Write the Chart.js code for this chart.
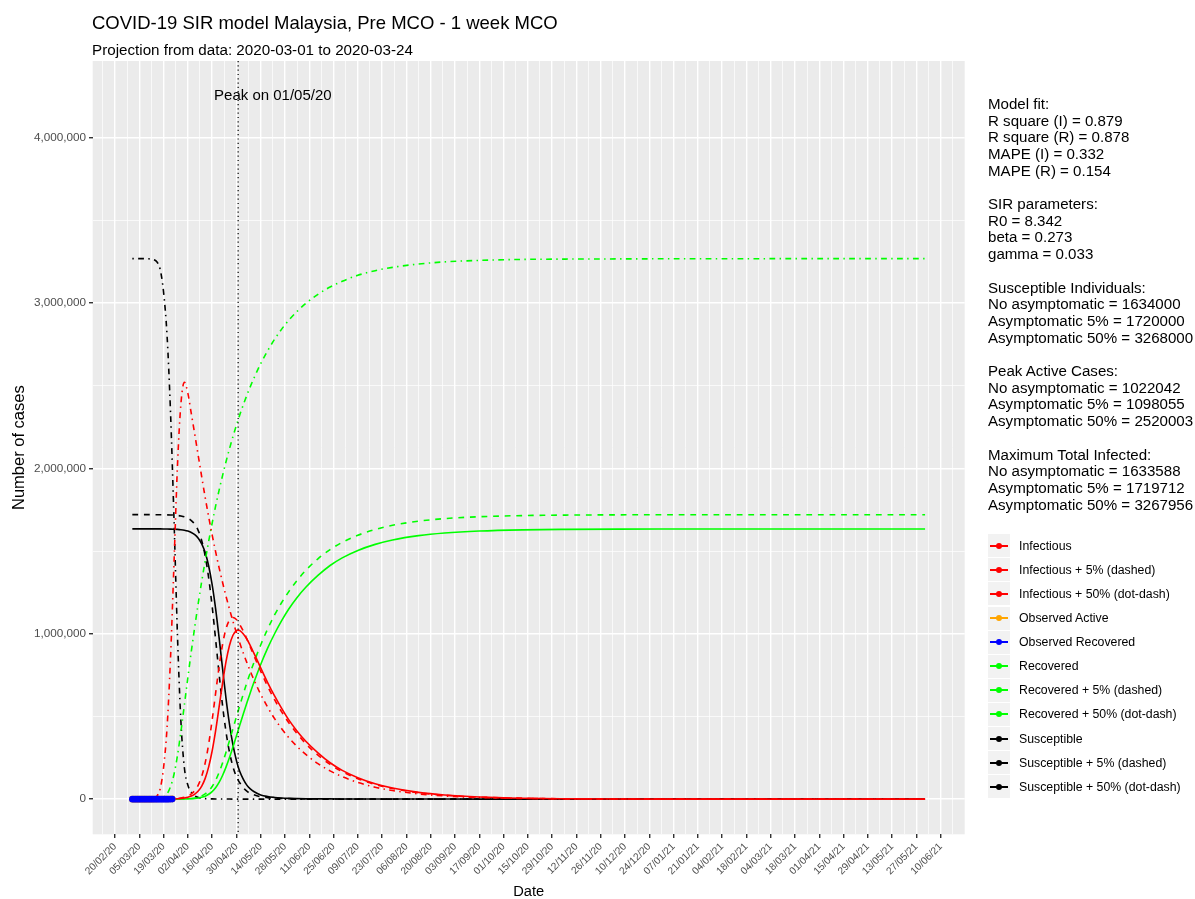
<!DOCTYPE html>
<html>
<head>
<meta charset="utf-8">
<script src="https://cdn.jsdelivr.net/npm/chart.js@4.4.1/dist/chart.umd.min.js"></script>
<style>
  body { margin: 0; background: #fff; font-family: "Liberation Sans", Arial, sans-serif; color: #000; }
  #wrap { position: relative; width: 1195px; height: 899px; overflow: hidden; }
  #chart { position: absolute; left: 0; top: 0; }
  .title { position: absolute; left: 92px; top: 14.3px; font-size: 18.5px; line-height: 18.5px; white-space: nowrap; }
  .subtitle { position: absolute; left: 92px; top: 42.1px; font-size: 15.2px; line-height: 15.2px; white-space: nowrap; }
  #info { position: absolute; left: 988px; top: 95.8px; font-size: 15.1px; line-height: 16.7px; white-space: pre; }
  .item { position: absolute; left: 988px; height: 24px; width: 207px; }
  .key { position: absolute; left: 0; top: 0.5px; width: 22px; height: 23px; background: #f2f2f2; }
  .key .ln { position: absolute; left: 2px; top: 10.5px; width: 18px; height: 2px; }
  .key .pt { position: absolute; left: 8px; top: 8.5px; width: 6px; height: 6px; border-radius: 50%; }
  .item .txt { position: absolute; left: 31px; top: 0; line-height: 24px; font-size: 12.3px; white-space: nowrap; }
</style>
</head>
<body>
<div id="wrap">
  <canvas id="chart" width="1195" height="899"></canvas>
  <div class="title">COVID-19 SIR model Malaysia, Pre MCO - 1 week MCO</div>
  <div class="subtitle">Projection from data: 2020-03-01 to 2020-03-24</div>
  <div id="info"></div>
  <div id="legend"></div>
</div>
<script>
// day 0 = 2020-03-01, values in thousands of cases
const days = [0, 10, 12, 14, 16, 18, 20, 22, 24, 26, 28, 30, 32, 34, 36, 38, 40, 42, 44, 46,
  48, 50, 52, 54, 56, 58, 60, 61, 62, 64, 66, 68, 70, 74, 78, 82, 86, 90, 95, 100,
  107, 114, 121, 130, 140, 150, 165, 180, 200, 225, 250, 280, 320, 370, 420, 457];

const infectious = [0.007, 0.06, 0.1, 0.16, 0.26, 0.41, 0.67, 1.08, 1.74, 2.8, 4.5, 7.3, 11.8, 19, 30.6, 49.3, 79.3, 125.5, 195, 291,
  413, 556, 700, 831, 929, 991, 1019, 1022, 1019, 999, 968, 928, 884, 794, 705, 624, 550, 482, 411, 350,
  280, 220, 174, 130, 93, 67, 41, 25, 12.8, 5.6, 2.5, 0.9, 0.25, 0.05, 0.01, 0.003];
const infectious5 = [0.007, 0.08, 0.13, 0.21, 0.35, 0.57, 0.95, 1.56, 2.6, 4.2, 7.0, 11.5, 19, 31.3, 51.6, 85.1, 138.2, 219, 332.5, 477.6,
  639.5, 800, 935, 1030, 1082, 1098, 1086, 1071.5, 1054, 1015, 969, 920, 870, 773, 682, 601, 529, 465, 396, 335,
  266, 210, 167, 124, 89, 64, 39, 23.8, 12.3, 5.4, 2.4, 0.9, 0.24, 0.05, 0.01, 0.003];
const infectious50 = [0.01, 1.5, 5, 17, 60, 190, 430, 850, 1420, 2010, 2390, 2520, 2455, 2330, 2205, 2076, 1948, 1824, 1707, 1598,
  1496, 1400, 1311, 1227, 1149, 1075, 1007, 974, 942, 882, 826, 773, 724, 634, 556, 487, 427, 374, 318, 270,
  215, 171, 136, 101, 72, 52, 32, 19.3, 10, 4.3, 1.9, 0.7, 0.19, 0.04, 0.01, 0.002];

const recovered = [0.022, 0.022, 0.03, 0.04, 0.05, 0.075, 0.1, 0.17, 0.27, 0.42, 0.66, 1.0, 1.7, 2.7, 4.4, 7.0, 11.3, 18, 29.5, 45.8,
  68.9, 100.8, 142.8, 193.4, 251.5, 315.5, 381.7, 416, 449.1, 515.7, 581.1, 643.9, 703.1, 814.5, 913, 1000, 1077.7, 1146.9, 1219.7, 1281,
  1352.4, 1412.5, 1458.6, 1503.6, 1540.3, 1566.8, 1592.9, 1608.8, 1620.8, 1628, 1631.1, 1632.7, 1633.3, 1633.5, 1633.6, 1633.6];
const recovered5 = [0.022, 0.022, 0.03, 0.04, 0.06, 0.09, 0.14, 0.23, 0.37, 0.6, 1.0, 1.6, 2.6, 4.3, 7.0, 11.5, 19.4, 31.7, 49.6, 76.4,
  113.6, 161.1, 218.6, 283.8, 353.7, 425.8, 498.1, 533.5, 568.4, 636.8, 702.7, 765.2, 823.6, 932.3, 1028.7, 1113.4, 1187.2, 1251.7, 1322.1, 1383.6,
  1452.8, 1508.8, 1552.4, 1595.4, 1630.4, 1655.5, 1680.6, 1695.9, 1707.4, 1714.3, 1717.3, 1718.8, 1719.45, 1719.65, 1719.7, 1719.7];
const recovered50 = [0.022, 0.1, 0.3, 1.1, 3.6, 11.8, 32, 75, 149, 263, 408, 570, 734, 893, 1043, 1184, 1317, 1441, 1558, 1668,
  1771, 1867, 1956, 2040, 2118, 2192, 2260, 2294, 2325, 2385, 2441, 2494, 2543, 2633, 2711, 2780, 2840, 2893, 2949, 2997,
  3052, 3096, 3131, 3167, 3195, 3215, 3235, 3248, 3257, 3263, 3265, 3266, 3267, 3267.5, 3268, 3268];

const susceptible = [1634, 1633.9, 1633.9, 1633.8, 1633.7, 1633.5, 1633.2, 1632.7, 1632, 1630.8, 1628.8, 1625.7, 1620.5, 1612.3, 1599, 1577.7, 1543.4, 1490.5, 1409.5, 1297.2,
  1152.1, 977.5, 790.7, 609.4, 453.5, 327.6, 233.4, 196, 165.5, 119.6, 84.7, 61.7, 46.5, 25.5, 15.7, 10.3, 6.8, 4.6, 3.2, 2.4,
  1.7, 1.5, 1.2, 1.0, 0.8, 0.7, 0.6, 0.5, 0.45, 0.43, 0.42, 0.41, 0.41, 0.41, 0.41, 0.41];
const susceptible5 = [1720, 1719.9, 1719.8, 1719.7, 1719.6, 1719.3, 1718.9, 1718.2, 1717, 1715.2, 1712, 1706.9, 1698.4, 1684.4, 1661.4, 1623.4, 1562.4, 1469.3, 1337.9, 1166,
  966.9, 758.9, 566.4, 406.2, 284.3, 196.2, 135.9, 115, 97.6, 68.2, 48.3, 34.8, 26.4, 14.7, 9.3, 5.6, 3.8, 3.0, 2.1, 1.4,
  1.0, 0.8, 0.6, 0.5, 0.4, 0.35, 0.32, 0.3, 0.29, 0.29, 0.29, 0.29, 0.29, 0.29, 0.29, 0.29];
const susceptible50 = [3268, 3266.4, 3262.7, 3249.9, 3204.4, 3066.2, 2806, 2343, 1699, 995, 470, 190, 85, 42, 20, 10, 5, 3, 2, 1.5,
  1.2, 1, 0.8, 0.6, 0.5, 0.4, 0.3, 0.3, 0.3, 0.2, 0.2, 0.15, 0.15, 0.1, 0.08, 0.07, 0.06, 0.06, 0.05, 0.05,
  0.05, 0.05, 0.05, 0.05, 0.05, 0.05, 0.045, 0.045, 0.045, 0.045, 0.044, 0.044, 0.044, 0.044, 0.044, 0.044];

// observed data 2020-03-01 .. 2020-03-24 (thousands)
const obsDays = [0, 1, 2, 3, 4, 5, 6, 7, 8, 9, 10, 11, 12, 13, 14, 15, 16, 17, 18, 19, 20, 21, 22, 23];
const obsActive = [0.007, 0.007, 0.014, 0.028, 0.028, 0.061, 0.071, 0.077, 0.095, 0.105, 0.122, 0.129,
  0.162, 0.203, 0.386, 0.511, 0.620, 0.730, 0.830, 0.940, 1.058, 1.150, 1.318, 1.415];
const obsRecovered = [0.022, 0.022, 0.022, 0.022, 0.022, 0.022, 0.022, 0.022, 0.022, 0.024, 0.027, 0.029,
  0.035, 0.035, 0.042, 0.042, 0.053, 0.060, 0.075, 0.087, 0.114, 0.139, 0.159, 0.183];

// major x ticks every 14 days starting at 20/02/20 (day -10)
const xTickLabels = ['20/02/20', '05/03/20', '19/03/20', '02/04/20', '16/04/20', '30/04/20', '14/05/20', '28/05/20',
  '11/06/20', '25/06/20', '09/07/20', '23/07/20', '06/08/20', '20/08/20', '03/09/20', '17/09/20', '01/10/20',
  '15/10/20', '29/10/20', '12/11/20', '26/11/20', '10/12/20', '24/12/20', '07/01/21', '21/01/21', '04/02/21',
  '18/02/21', '04/03/21', '18/03/21', '01/04/21', '15/04/21', '29/04/21', '13/05/21', '27/05/21', '10/06/21'];
const xFirstTick = -10;
const xTickStep = 14;
const yTickLabels = ['0', '1,000,000', '2,000,000', '3,000,000', '4,000,000'];

const peakDay = 61;
const peakText = 'Peak on 01/05/20';

const infoLines = [
  'Model fit:', 'R square (I) = 0.879', 'R square (R) = 0.878', 'MAPE (I) = 0.332', 'MAPE (R) = 0.154', '',
  'SIR parameters:', 'R0 = 8.342', 'beta = 0.273', 'gamma = 0.033', '',
  'Susceptible Individuals:', 'No asymptomatic = 1634000', 'Asymptomatic 5% = 1720000', 'Asymptomatic 50% = 3268000', '',
  'Peak Active Cases:', 'No asymptomatic = 1022042', 'Asymptomatic 5% = 1098055', 'Asymptomatic 50% = 2520003', '',
  'Maximum Total Infected:', 'No asymptomatic = 1633588', 'Asymptomatic 5% = 1719712', 'Asymptomatic 50% = 3267956'
];

const legendLabels = ['Infectious', 'Infectious + 5% (dashed)', 'Infectious + 50% (dot-dash)', 'Observed Active',
  'Observed Recovered', 'Recovered', 'Recovered + 5% (dashed)', 'Recovered + 50% (dot-dash)',
  'Susceptible', 'Susceptible + 5% (dashed)', 'Susceptible + 50% (dot-dash)'];
const legendColors = ['#ff0000', '#ff0000', '#ff0000', '#ffa500', '#0000ff', '#00ff00', '#00ff00', '#00ff00',
  '#000000', '#000000', '#000000'];

// ---- page text ----
document.getElementById('info').textContent = infoLines.join('\n');
const legendEl = document.getElementById('legend');
legendLabels.forEach((label, i) => {
  const item = document.createElement('div');
  item.className = 'item';
  item.style.top = (533.7 + i * 24.1) + 'px';
  item.innerHTML = '<div class="key"><div class="ln" style="background:' + legendColors[i] + '"></div>' +
    '<div class="pt" style="background:' + legendColors[i] + '"></div></div><div class="txt"></div>';
  item.querySelector('.txt').textContent = label;
  legendEl.appendChild(item);
});

// ---- chart ----
const K = 1000;
const toPoints = (xs, vals) => vals.map((v, i) => ({ x: xs[i], y: v * K }));

const LW = 1.6;
const DASHED = [5.8, 5.8];
const DOTDASH = [1.45, 4.35, 5.8, 4.35];

function modelLine(label, vals, color, dash, order) {
  return {
    label: label, data: toPoints(days, vals), borderColor: color, backgroundColor: color,
    borderWidth: LW, borderDash: dash, pointRadius: 0, cubicInterpolationMode: 'monotone',
    fill: false, order: order
  };
}

const xMin = -22.85, xMax = 479.85;
const yMin = -212500, yMax = 4462500;

const xTickValues = [];
for (let v = xFirstTick - 7; v <= xMax; v += 7) xTickValues.push(v);
const yTickValues = [];
for (let v = 0; v <= yMax; v += 500000) yTickValues.push(v);

const isMajorX = (v) => (v - xFirstTick) % xTickStep === 0 && v >= xFirstTick;
const isMajorY = (v) => v % 1000000 === 0;

const panelBg = {
  id: 'panelBg',
  beforeDraw(chart) {
    const { ctx, chartArea: a } = chart;
    ctx.save();
    ctx.fillStyle = '#ebebeb';
    ctx.fillRect(a.left, a.top, a.right - a.left, a.bottom - a.top);
    ctx.restore();
  }
};

const peakMarker = {
  id: 'peakMarker',
  afterDatasetsDraw(chart) {
    const { ctx, chartArea: a, scales } = chart;
    const px = scales.x.getPixelForValue(peakDay);
    ctx.save();
    ctx.strokeStyle = '#000';
    ctx.lineWidth = 1.2;
    ctx.setLineDash([1.2, 3.1]);
    ctx.beginPath();
    ctx.moveTo(px, a.top);
    ctx.lineTo(px, a.bottom);
    ctx.stroke();
    ctx.setLineDash([]);
    ctx.fillStyle = '#000';
    ctx.font = '15px "Liberation Sans", Arial, sans-serif';
    ctx.textAlign = 'center';
    ctx.textBaseline = 'middle';
    ctx.fillText(peakText, scales.x.getPixelForValue(peakDay + 20), scales.y.getPixelForValue(4250000));
    ctx.restore();
  }
};

Chart.defaults.font.family = '"Liberation Sans", Arial, sans-serif';

new Chart(document.getElementById('chart'), {
  type: 'line',
  data: {
    datasets: [
      { label: 'Observed Recovered', data: toPoints(obsDays, obsRecovered), borderColor: '#0000ff', backgroundColor: '#0000ff',
        borderWidth: LW, pointRadius: 3.3, pointBorderWidth: 0, order: 0 },
      { label: 'Observed Active', data: toPoints(obsDays, obsActive), borderColor: '#ffa500', backgroundColor: '#ffa500',
        borderWidth: LW, pointRadius: 3.3, pointBorderWidth: 0, order: 1 },
      modelLine('Infectious', infectious, '#ff0000', [], 2),
      modelLine('Infectious + 5% (dashed)', infectious5, '#ff0000', DASHED, 3),
      modelLine('Infectious + 50% (dot-dash)', infectious50, '#ff0000', DOTDASH, 4),
      modelLine('Recovered', recovered, '#00ff00', [], 5),
      modelLine('Recovered + 5% (dashed)', recovered5, '#00ff00', DASHED, 6),
      modelLine('Recovered + 50% (dot-dash)', recovered50, '#00ff00', DOTDASH, 7),
      modelLine('Susceptible', susceptible, '#000000', [], 8),
      modelLine('Susceptible + 5% (dashed)', susceptible5, '#000000', DASHED, 9),
      modelLine('Susceptible + 50% (dot-dash)', susceptible50, '#000000', DOTDASH, 10)
    ]
  },
  options: {
    responsive: false,
    animation: false,
    devicePixelRatio: 1,
    layout: { padding: { left: 0, top: 61, right: 230.3, bottom: 0 } },
    plugins: { legend: { display: false }, tooltip: { enabled: false } },
    scales: {
      x: {
        type: 'linear', min: xMin, max: xMax,
        afterBuildTicks: (s) => { s.ticks = xTickValues.map(v => ({ value: v })); },
        afterFit: (s) => { s.height = 64.7; },
        border: { display: false },
        grid: {
          color: '#ffffff',
          lineWidth: (c) => isMajorX(c.tick.value) ? 1.42 : 0.71,
          tickLength: 3.67,
          tickWidth: 1.42,
          tickColor: (c) => isMajorX(c.tick.value) ? '#333333' : 'rgba(0,0,0,0)'
        },
        ticks: {
          autoSkip: false, minRotation: 45, maxRotation: 45, padding: 2.6,
          color: '#4d4d4d', font: { size: 10.2 },
          callback: (v) => isMajorX(v) ? (xTickLabels[(v - xFirstTick) / xTickStep] || '') : ''
        },
        title: { display: true, text: 'Date', color: '#000', font: { size: 14.67, lineHeight: 1 }, padding: 0 }
      },
      y: {
        type: 'linear', min: yMin, max: yMax,
        afterBuildTicks: (s) => { s.ticks = yTickValues.map(v => ({ value: v })); },
        afterFit: (s) => { s.width = 92.7; },
        border: { display: false },
        grid: {
          color: '#ffffff',
          lineWidth: (c) => isMajorY(c.tick.value) ? 1.42 : 0.71,
          tickLength: 3.67,
          tickWidth: 1.42,
          tickColor: (c) => isMajorY(c.tick.value) ? '#333333' : 'rgba(0,0,0,0)'
        },
        ticks: {
          padding: 2.93, color: '#4d4d4d', font: { size: 11.73 },
          callback: (v) => isMajorY(v) ? yTickLabels[v / 1000000] : ''
        },
        title: { display: true, text: 'Number of cases', color: '#000', font: { size: 16.5, lineHeight: 1 }, padding: { top: 10.8 } }
      }
    }
  },
  plugins: [panelBg, peakMarker]
});
</script>
</body>
</html>
